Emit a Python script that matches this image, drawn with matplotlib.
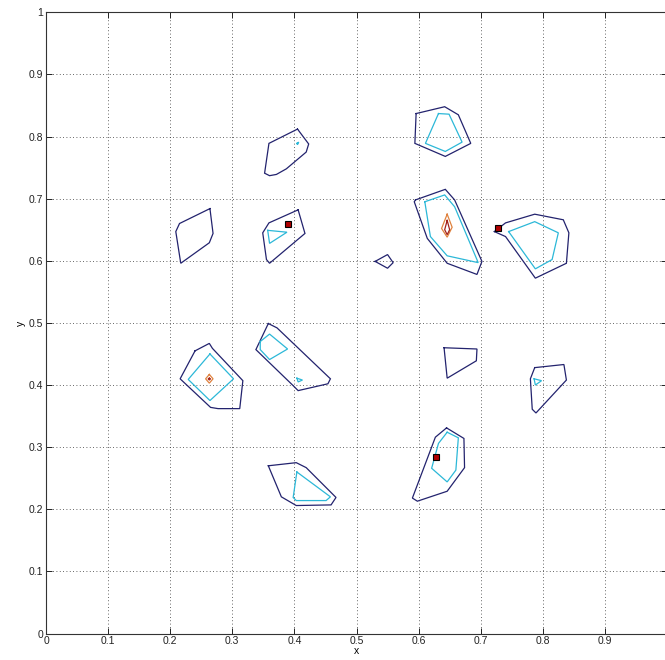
import matplotlib
matplotlib.use("Agg")
import matplotlib.pyplot as plt

# ---- contour polygons (data coordinates) ----
# level 1 (outer, navy)
outer_polys = [
    ([0.405, 0.423, 0.419, 0.387, 0.371, 0.360, 0.352, 0.359],
     [0.812, 0.788, 0.775, 0.748, 0.739, 0.737, 0.741, 0.789]),
    ([0.264, 0.269, 0.263, 0.217, 0.209, 0.215],
     [0.684, 0.644, 0.629, 0.596, 0.647, 0.660]),
    ([0.406, 0.417, 0.360, 0.355, 0.349, 0.359],
     [0.682, 0.644, 0.596, 0.602, 0.645, 0.661]),
    ([0.596, 0.642, 0.664, 0.684, 0.643, 0.594],
     [0.837, 0.848, 0.835, 0.789, 0.768, 0.789]),
    ([0.595, 0.643, 0.658, 0.702, 0.694, 0.646, 0.614, 0.593],
     [0.698, 0.715, 0.698, 0.599, 0.578, 0.596, 0.636, 0.695]),
    ([0.722, 0.740, 0.787, 0.833, 0.842, 0.838, 0.788, 0.740],
     [0.647, 0.661, 0.675, 0.666, 0.645, 0.596, 0.572, 0.639]),
    ([0.530, 0.550, 0.559, 0.550],
     [0.599, 0.610, 0.597, 0.588]),
    ([0.240, 0.263, 0.268, 0.317, 0.312, 0.277, 0.265, 0.216],
     [0.455, 0.467, 0.459, 0.407, 0.362, 0.362, 0.364, 0.410]),
    ([0.358, 0.372, 0.458, 0.454, 0.406, 0.398, 0.338],
     [0.499, 0.492, 0.410, 0.402, 0.391, 0.399, 0.457]),
    ([0.641, 0.694, 0.693, 0.646],
     [0.460, 0.458, 0.439, 0.411]),
    ([0.787, 0.834, 0.838, 0.789, 0.783, 0.780],
     [0.428, 0.433, 0.408, 0.355, 0.361, 0.410]),
    ([0.645, 0.673, 0.674, 0.646, 0.598, 0.590, 0.627],
     [0.331, 0.314, 0.267, 0.229, 0.213, 0.218, 0.316]),
    ([0.358, 0.403, 0.419, 0.467, 0.459, 0.403, 0.379],
     [0.270, 0.275, 0.267, 0.219, 0.207, 0.206, 0.220]),
]

# level 2 (cyan)
mid_polys = [
    ([0.404, 0.407, 0.405],
     [0.789, 0.791, 0.787]),
    ([0.357, 0.388, 0.360],
     [0.649, 0.646, 0.628]),
    ([0.632, 0.649, 0.670, 0.643, 0.611],
     [0.837, 0.836, 0.791, 0.776, 0.789]),
    ([0.610, 0.642, 0.658, 0.696, 0.646, 0.619],
     [0.695, 0.706, 0.687, 0.597, 0.608, 0.639]),
    ([0.745, 0.787, 0.825, 0.815, 0.788],
     [0.647, 0.663, 0.645, 0.602, 0.587]),
    ([0.264, 0.302, 0.264, 0.229],
     [0.450, 0.410, 0.375, 0.409]),
    ([0.345, 0.360, 0.389, 0.360, 0.345],
     [0.470, 0.482, 0.458, 0.441, 0.457]),
    ([0.404, 0.413, 0.406],
     [0.411, 0.408, 0.405]),
    ([0.404, 0.458, 0.451, 0.403, 0.398],
     [0.260, 0.220, 0.214, 0.214, 0.219]),
    ([0.786, 0.798, 0.788],
     [0.410, 0.407, 0.400]),
    ([0.646, 0.664, 0.660, 0.646, 0.621, 0.632],
     [0.324, 0.315, 0.263, 0.244, 0.266, 0.306]),
]

# level 3 (orange)
high_polys = [
    ([0.646, 0.654, 0.646, 0.637],
     [0.675, 0.654, 0.638, 0.652]),
    ([0.263, 0.269, 0.263, 0.257],
     [0.417, 0.410, 0.403, 0.410]),
]

# level 4 (dark red)
top_polys = [
    ([0.646, 0.650, 0.646, 0.642],
     [0.665, 0.650, 0.642, 0.650]),
    ([0.263, 0.265, 0.263, 0.261],
     [0.411, 0.410, 0.408, 0.410]),
]

# square markers
marker_x = [0.390, 0.728, 0.628]
marker_y = [0.660, 0.652, 0.284]

level_colors = ["#23236e", "#2cb8d8", "#e0823e", "#a3231c"]

ticks = [0, 0.1, 0.2, 0.3, 0.4, 0.5, 0.6, 0.7, 0.8, 0.9, 1]
x_tick_labels = ["0", "0.1", "0.2", "0.3", "0.4", "0.5", "0.6", "0.7", "0.8", "0.9", ""]
y_tick_labels = ["0", "0.1", "0.2", "0.3", "0.4", "0.5", "0.6", "0.7", "0.8", "0.9", "1"]

fig = plt.figure(figsize=(6.65, 6.60), dpi=100)
ax = fig.add_axes([46 / 665, 26.5 / 660, 621 / 665, 621.2 / 660])

for polys, col in zip([outer_polys, mid_polys, high_polys, top_polys], level_colors):
    for xs, ys in polys:
        ax.plot(list(xs) + [xs[0]], list(ys) + [ys[0]], color=col, lw=0.9,
                solid_joinstyle="miter")

ax.plot(marker_x, marker_y, linestyle="none", marker="s", markersize=5,
        markerfacecolor="#b00000", markeredgecolor="black", markeredgewidth=0.8)

ax.set_xlim(0, 1)
ax.set_ylim(0, 1)
ax.set_xticks(ticks)
ax.set_xticklabels(x_tick_labels)
ax.set_yticks(ticks)
ax.set_yticklabels(y_tick_labels)
ax.grid(True, color="#333333", linestyle=(0, (1, 3)), linewidth=0.6)
ax.tick_params(direction="in", length=4, width=0.7, top=True, right=True,
               labelsize=7.5, pad=2, colors="#222222")
for s in ax.spines.values():
    s.set_linewidth(0.8)
    s.set_color("#333333")
for lab in ax.get_xticklabels() + ax.get_yticklabels():
    lab.set_family("Liberation Sans")

ax.set_xlabel("x", fontsize=7.5, family="Liberation Sans", labelpad=0)
ax.set_ylabel("y", fontsize=7.5, family="Liberation Sans", labelpad=2)

fig.savefig("out.png", dpi=100)
